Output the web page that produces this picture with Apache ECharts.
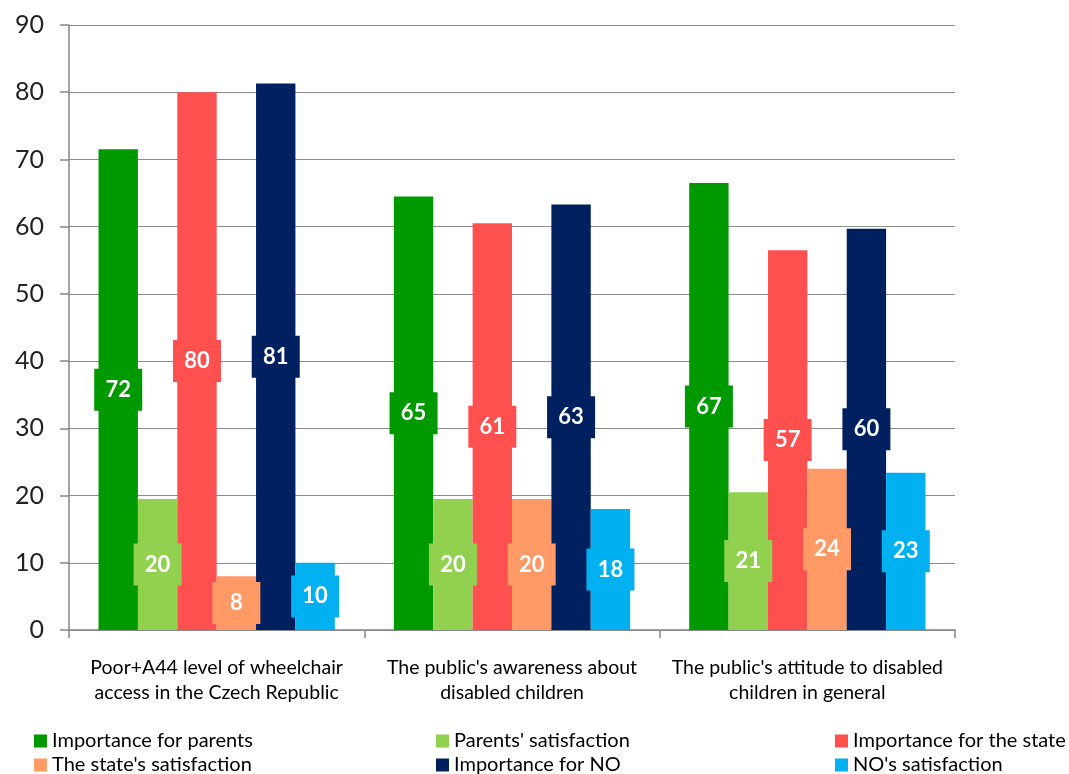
<!DOCTYPE html>
<html>
<head>
<meta charset="utf-8">
<script src="https://cdn.jsdelivr.net/npm/echarts@6/dist/echarts.min.js"></script>
<style>
html,body{margin:0;padding:0;background:#fff;}
#container{width:1069px;height:774px;}
</style>
</head>
<body>
<div id="container"></div>
<script>
// categories
var categories = [
	'Poor+A44 level of wheelchair\naccess in the Czech Republic',
	'The public\'s awareness about\ndisabled children',
	'The public\'s attitude to disabled\nchildren in general'
];
var seriesNames = ['Importance for parents', 'Parents\' satisfaction', 'Importance for the state',
	'The state\'s satisfaction', 'Importance for NO', 'NO\'s satisfaction'];
var seriesColors = ['#009900', '#92d050', '#ff5050', '#ff9966', '#002060', '#00b0f0'];

// values
var importanceParents = [71.5, 64.5, 66.5];
var parentsSatisfaction = [19.5, 19.5, 20.5];
var importanceState = [80, 60.5, 56.5];
var stateSatisfaction = [8, 19.5, 24];
var importanceNO = [81.3, 63.3, 59.7];
var noSatisfaction = [10, 18, 23.4];
var yTicks = [0, 10, 20, 30, 40, 50, 60, 70, 80, 90];

var allData = [importanceParents, parentsSatisfaction, importanceState, stateSatisfaction, importanceNO, noSatisfaction];

var dom = document.getElementById("container");
var myChart = echarts.init(dom);

var series = [];
for (var i = 0; i < allData.length; i++) {
	series.push({
		name: seriesNames[i],
		type: 'bar',
		data: allData[i],
		barGap: 0,
		barCategoryGap: '20%',
		itemStyle: { color: seriesColors[i] },
		label: {
			show: true,
			position: 'inside',
			formatter: function (p) { return Math.round(p.value); },
			color: '#fff',
			fontFamily: 'Lato',
			fontWeight: 'bold',
			fontSize: 22,
			backgroundColor: seriesColors[i],
			padding: [11, 6, 9, 6],
			width: 36,
			align: 'center'
		}
	});
}

// legend laid out in 3 columns of 2 rows
var legendCols = [[0, 3], [1, 4], [2, 5]];
var legendLefts = [34, 436, 835];
var legends = [];
for (var j = 0; j < legendCols.length; j++) {
	legends.push({
		orient: 'vertical',
		left: legendLefts[j],
		top: 731,
		height: 80,
		itemWidth: 13,
		itemHeight: 13,
		itemGap: 4,
		icon: 'rect',
		padding: 0,
		data: [seriesNames[legendCols[j][0]], seriesNames[legendCols[j][1]]],
		textStyle: { fontFamily: 'Lato', fontSize: 20, color: '#000' }
	});
}

option = {
	animation: false,
	color: seriesColors,
	grid: {
		left: 69,
		right: 114,
		top: 25,
		bottom: 144
	},
	legend: legends,
	xAxis: {
		type: 'category',
		data: categories,
		axisLine: { lineStyle: { color: '#868686', width: 1.5 } },
		axisTick: { show: true, length: 8, lineStyle: { color: '#868686', width: 1.5 } },
		axisLabel: {
			interval: 0,
			fontFamily: 'Lato',
			fontSize: 19.5,
			color: '#000',
			lineHeight: 25,
			margin: 25
		}
	},
	yAxis: {
		type: 'value',
		min: yTicks[0],
		max: yTicks[yTicks.length - 1],
		interval: 10,
		axisLine: { show: true, lineStyle: { color: '#868686', width: 1.5 } },
		axisTick: { show: true, length: 9, lineStyle: { color: '#868686', width: 1.5 } },
		splitLine: { lineStyle: { color: '#8c8c8c', width: 1.2 } },
		axisLabel: {
			fontFamily: 'Lato',
			fontSize: 25,
			color: '#222',
			margin: 25
		}
	},
	series: series
};

myChart.setOption(option);
</script>
</body>
</html>
